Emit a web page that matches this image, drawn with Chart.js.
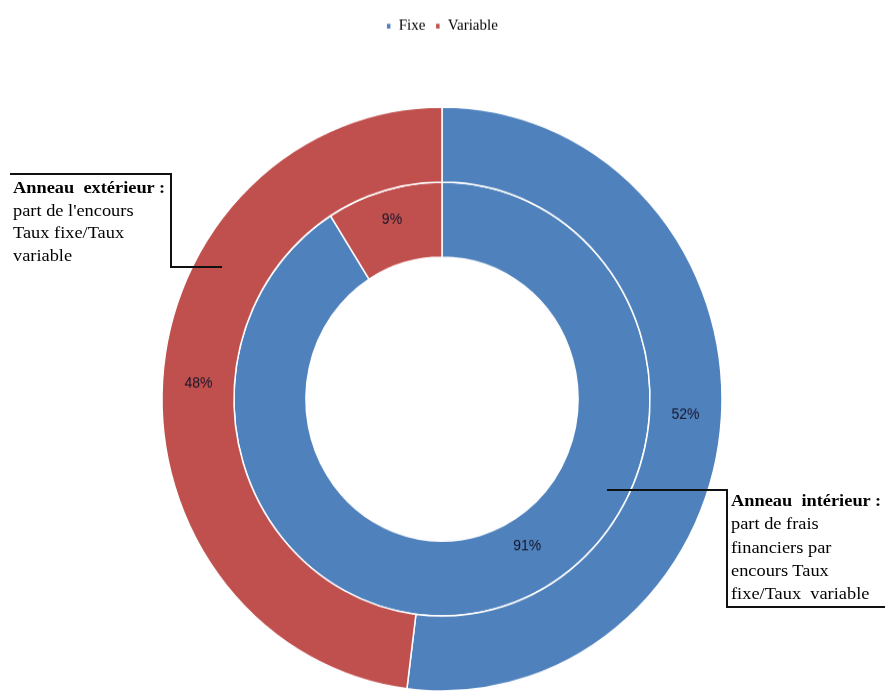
<!DOCTYPE html>
<html>
<head>
<meta charset="utf-8">
<script src="https://cdn.jsdelivr.net/npm/chart.js@4.4.0/dist/chart.umd.min.js"></script>
<style>
html,body{margin:0;padding:0;background:#fff;width:885px;height:691px;overflow:hidden;}
#wrap{position:absolute;left:0;top:0;width:885px;height:739px;transform:scaleY(1.043);transform-origin:442px 398px;}
.note{position:absolute;font-family:"Liberation Serif","Times New Roman",serif;font-size:17px;color:#000;white-space:pre;transform:scaleX(1.08);transform-origin:0 0;}
.note b{font-weight:bold;}
.ln{position:absolute;background:#111;}
</style>
</head>
<body>
<div id="wrap"><canvas id="c"></canvas></div>

<div class="note" style="left:13px;top:177px;line-height:22.5px;"><b>Anneau  extérieur :</b>
part de l'encours
Taux fixe/Taux
variable</div>
<div class="ln" style="left:10px;top:173px;width:161px;height:1.5px;"></div>
<div class="ln" style="left:170px;top:173px;width:1.5px;height:94px;"></div>
<div class="ln" style="left:170px;top:266px;width:52px;height:1.5px;"></div>

<div class="note" style="left:731px;top:489px;line-height:23.3px;"><b>Anneau  intérieur :</b>
part de frais
financiers par
encours Taux
fixe/Taux  variable</div>
<div class="ln" style="left:607px;top:489px;width:120px;height:1.5px;"></div>
<div class="ln" style="left:726px;top:489px;width:1.5px;height:118px;"></div>
<div class="ln" style="left:726px;top:606px;width:159px;height:1.5px;"></div>

<script>
// ---- data ----
const categories = ['Fixe', 'Variable'];
const outerValues = [52, 48];   // Anneau extérieur : part de l'encours
const innerValues = [91, 9];    // Anneau intérieur : part de frais financiers
const colors = ['#4F81BD', '#C0504D'];
// label placement inside each slice: fraction of slice angle, fraction of ring thickness
const labelAngleFrac = [[0.5, 0.5], [0.4545, 0.5]];
const labelRadialFrac = [[0.5, 0.5], [0.4, 0.6]];

const labelPlugin = {
  id: 'sliceLabels',
  afterDatasetsDraw(chart) {
    const ctx = chart.ctx;
    ctx.save();
    ctx.font = '14px "Liberation Sans", Arial, sans-serif';
    ctx.fillStyle = '#15152a';
    ctx.textAlign = 'center';
    ctx.textBaseline = 'middle';
    chart.data.datasets.forEach((ds, di) => {
      const meta = chart.getDatasetMeta(di);
      meta.data.forEach((arc, i) => {
        const p = arc.getProps(['x', 'y', 'startAngle', 'endAngle', 'innerRadius', 'outerRadius'], true);
        const a = p.startAngle + (p.endAngle - p.startAngle) * labelAngleFrac[di][i];
        const r = p.innerRadius + (p.outerRadius - p.innerRadius) * labelRadialFrac[di][i];
        ctx.fillText(ds.data[i] + '%', p.x + Math.cos(a) * r, p.y + Math.sin(a) * r);
      });
    });
    ctx.restore();
  }
};

new Chart(document.getElementById('c'), {
  type: 'doughnut',
  data: {
    labels: categories,
    datasets: [
      { label: 'Anneau extérieur', data: outerValues, backgroundColor: colors, borderColor: '#ffffff', borderWidth: 1.5 },
      { label: 'Anneau intérieur', data: innerValues, backgroundColor: colors, borderColor: '#ffffff', borderWidth: 1.5 }
    ]
  },
  options: {
    responsive: true,
    maintainAspectRatio: false,
    animation: false,
    radius: 280,
    cutout: '48.6%',
    layout: { padding: { top: 24, left: 0, right: 1, bottom: 0 } },
    plugins: {
      legend: {
        position: 'top',
        labels: {
          boxWidth: 5, boxHeight: 6, padding: 10, color: '#000',
          font: { family: '"Liberation Serif", "Times New Roman", serif', size: 15 }
        }
      },
      tooltip: { enabled: false }
    }
  },
  plugins: [labelPlugin]
});
</script>
</body>
</html>
